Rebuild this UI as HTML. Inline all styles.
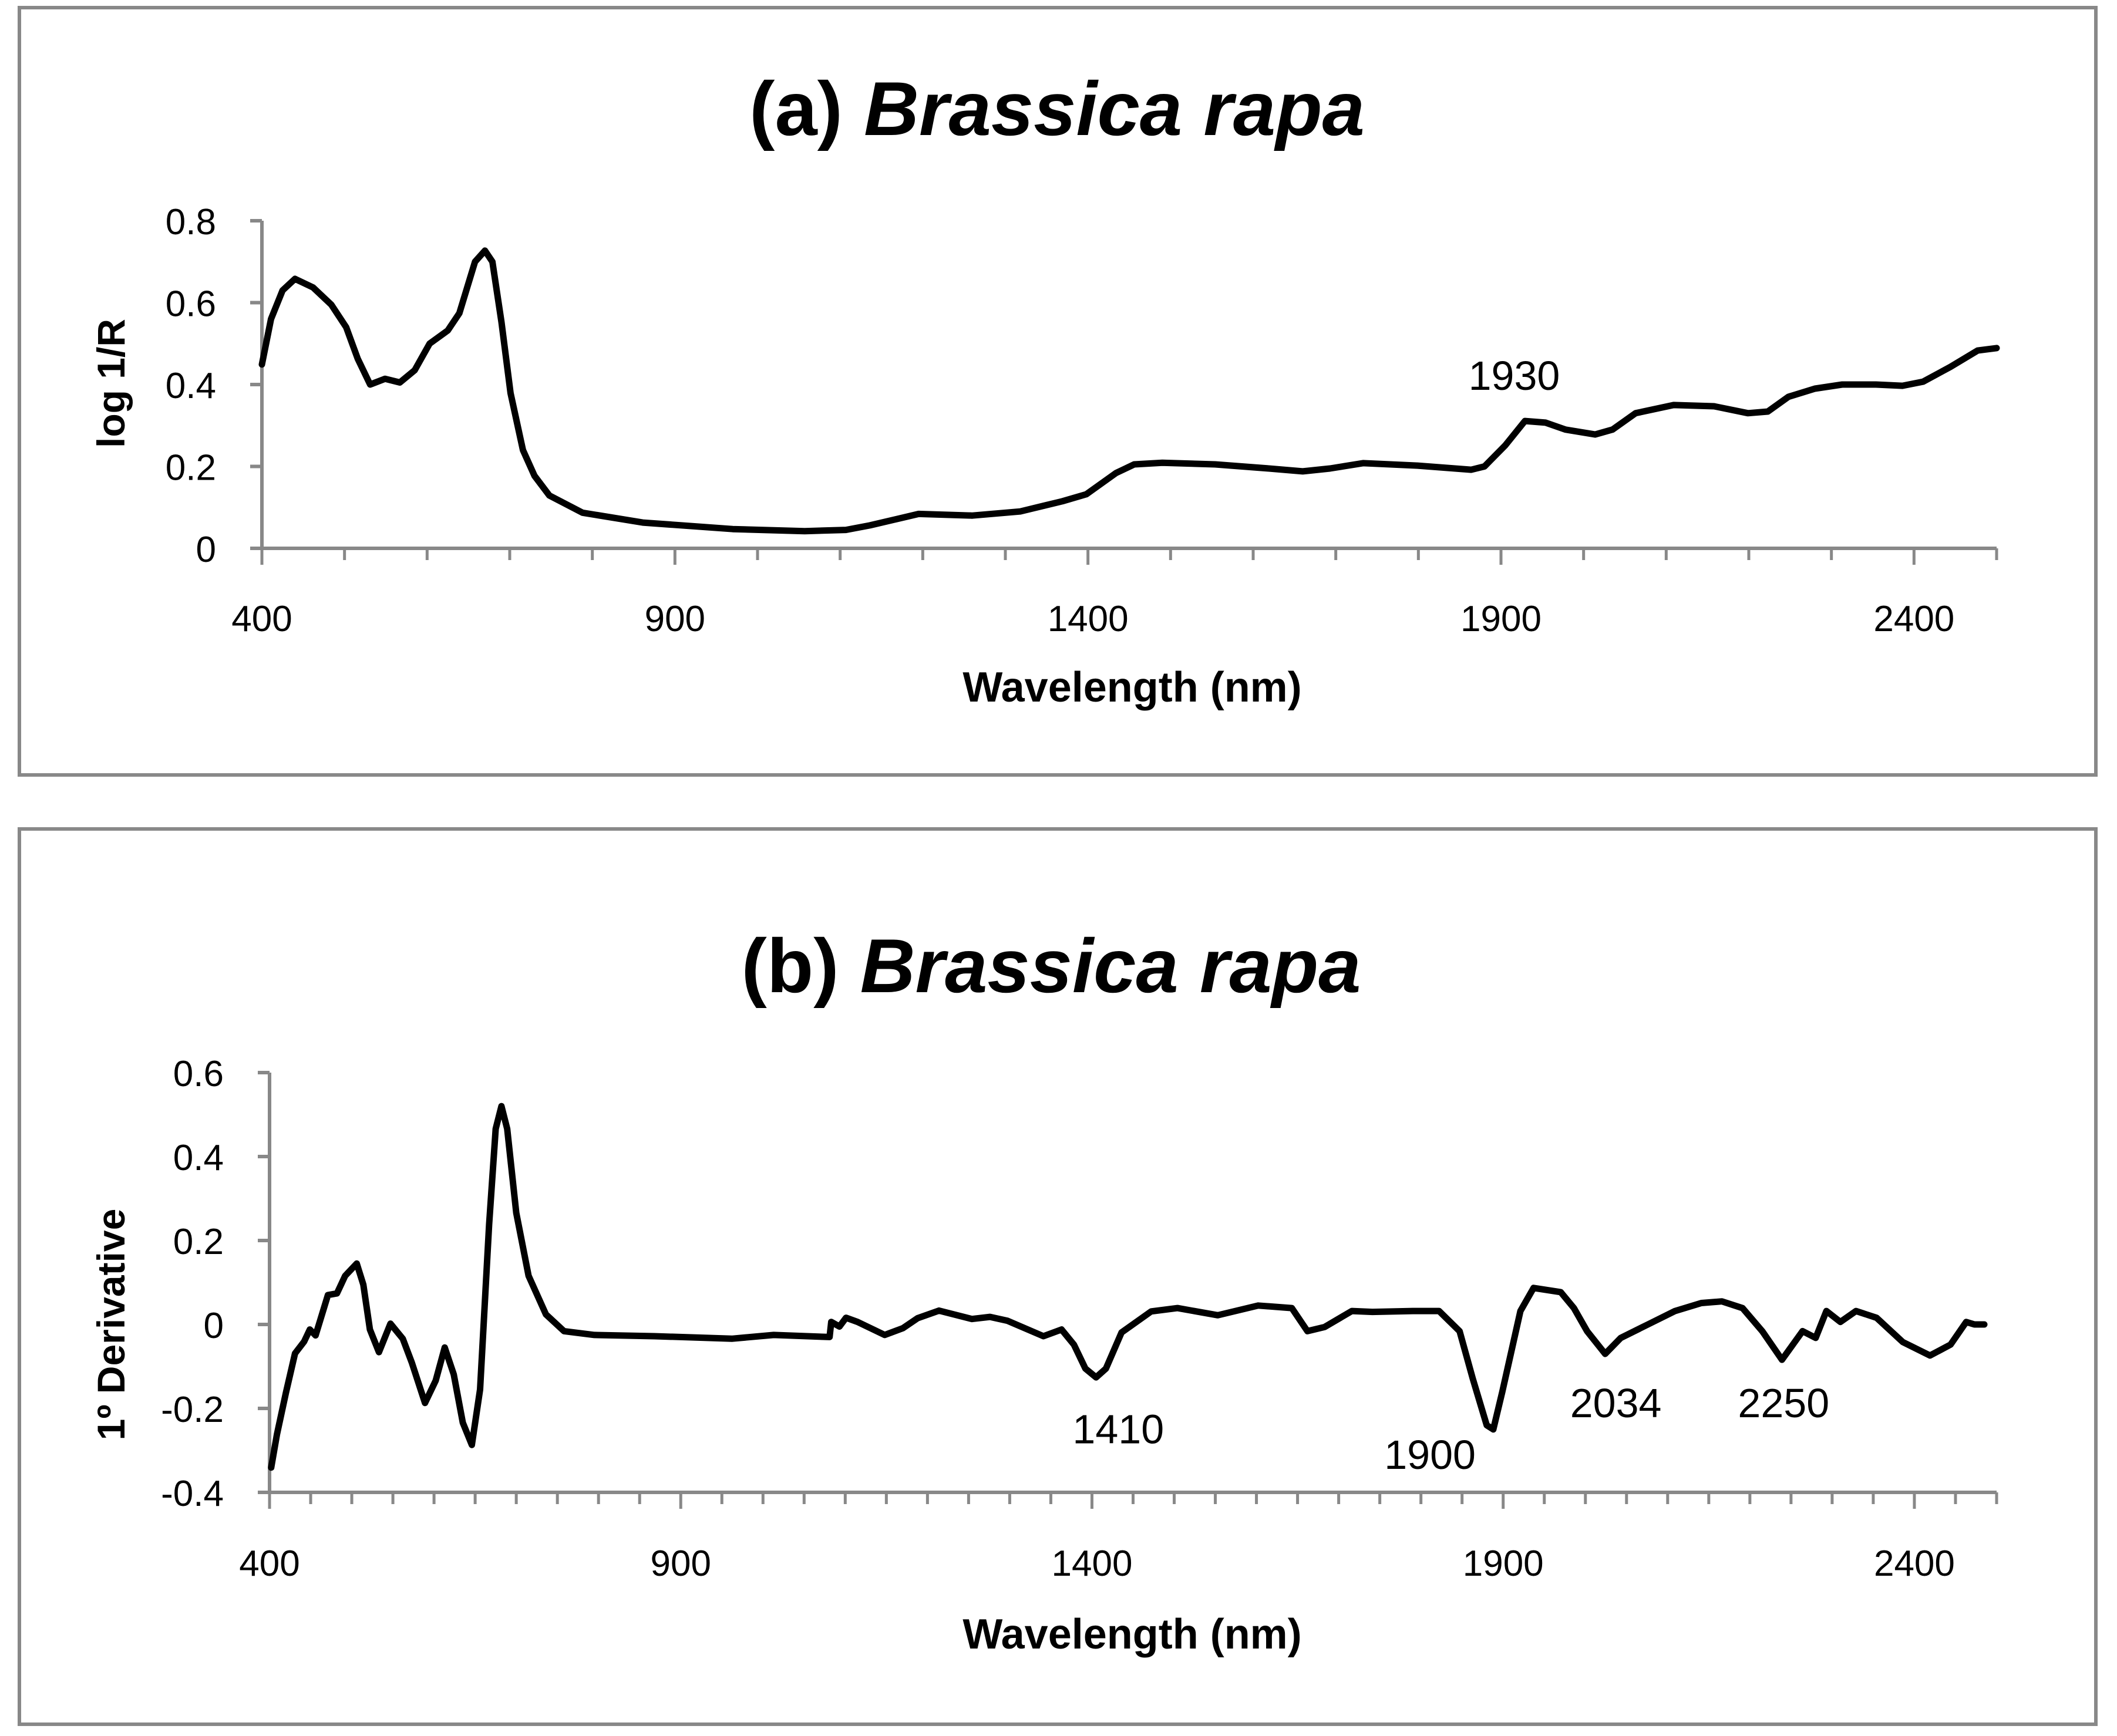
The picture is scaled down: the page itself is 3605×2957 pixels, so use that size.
<!DOCTYPE html>
<html><head><meta charset="utf-8"><style>
html,body{margin:0;padding:0;background:#fff}
svg{display:block}
text{font-family:"Liberation Sans",sans-serif}
</style></head><body>
<svg id="fig" width="3605" height="2957" viewBox="0 0 3605 2957" xmlns="http://www.w3.org/2000/svg">
<rect x="33" y="13" width="3536" height="1307" fill="#fff" stroke="#888" stroke-width="6"/>
<rect x="33" y="1412" width="3536" height="1525" fill="#fff" stroke="#888" stroke-width="6"/>
<text x="1800" y="230" font-size="130" font-weight="bold" text-anchor="middle">(a) <tspan font-style="italic">Brassica rapa</tspan></text>
<text x="1790" y="1690" font-size="130" font-weight="bold" text-anchor="middle">(b) <tspan font-style="italic">Brassica rapa</tspan></text>
<text transform="translate(212,653) rotate(-90)" font-size="66" font-weight="bold" text-anchor="middle">log 1/R</text>
<text transform="translate(212,2256) rotate(-90)" font-size="66" font-weight="bold" text-anchor="middle">1º Derivative</text>
<text x="1928" y="1195" font-size="72" font-weight="bold" text-anchor="middle">Wavelength (nm)</text>
<text x="1928" y="2808" font-size="72" font-weight="bold" text-anchor="middle">Wavelength (nm)</text>
<g id="ga"></g>
<g id="gb"></g>
</svg>
<script>
const aWave=[400,411,425,440,462,484,502,516,531,549,567,585,603,625,639,658,670,679,690,701,716,730,748,788,861,970,1057,1107,1136,1195,1260,1318,1369,1398,1434,1456,1490,1554,1619,1660,1693,1733,1799,1864,1880,1905,1929,1954,1978,2014,2035,2063,2109,2158,2199,2223,2248,2280,2313,2354,2386,2411,2444,2477,2500];
const aVal=[0.449,0.56,0.63,0.658,0.637,0.595,0.54,0.463,0.40,0.414,0.405,0.435,0.50,0.532,0.574,0.70,0.727,0.70,0.553,0.379,0.24,0.177,0.129,0.087,0.063,0.047,0.042,0.045,0.056,0.084,0.080,0.090,0.115,0.132,0.184,0.205,0.209,0.205,0.195,0.188,0.195,0.208,0.202,0.192,0.20,0.251,0.311,0.307,0.29,0.278,0.29,0.33,0.35,0.347,0.33,0.334,0.37,0.39,0.40,0.40,0.397,0.407,0.443,0.483,0.489];
const bWave=[402,409,420,431,442,449,456,471,482,492,506,514,522,533,547,562,573,589,602,613,624,635,646,656,667,675,682,689,700,715,736,758,795,868,962,1013,1081,1083,1093,1101,1115,1148,1170,1188,1214,1254,1276,1297,1341,1363,1378,1392,1405,1417,1436,1472,1504,1553,1602,1643,1662,1683,1716,1741,1790,1822,1847,1863,1880,1888,1899,1921,1937,1970,1986,2002,2024,2043,2076,2109,2141,2166,2191,2215,2239,2264,2280,2293,2310,2329,2354,2386,2419,2444,2463,2473,2485];
const bVal=[-0.341,-0.262,-0.162,-0.069,-0.041,-0.012,-0.026,0.07,0.074,0.116,0.145,0.095,-0.012,-0.066,0.002,-0.034,-0.091,-0.187,-0.134,-0.055,-0.119,-0.234,-0.287,-0.155,0.238,0.466,0.52,0.466,0.266,0.116,0.024,-0.016,-0.025,-0.028,-0.034,-0.025,-0.03,0.006,-0.005,0.016,0.006,-0.025,-0.009,0.015,0.033,0.013,0.018,0.009,-0.028,-0.012,-0.048,-0.105,-0.126,-0.105,-0.019,0.031,0.039,0.022,0.045,0.039,-0.016,-0.006,0.032,0.03,0.032,0.032,-0.016,-0.129,-0.24,-0.25,-0.16,0.032,0.087,0.077,0.039,-0.016,-0.07,-0.032,0,0.032,0.051,0.055,0.039,-0.016,-0.084,-0.016,-0.032,0.032,0.006,0.032,0.016,-0.042,-0.074,-0.048,0.006,0,0];
const aYTicks=[0,0.2,0.4,0.6,0.8];
const bYTicks=[-0.4,-0.2,0,0.2,0.4,0.6];
const xTicks=[400,900,1400,1900,2400];
const aNotes=[["1930",1916,0.387]];
const bNotes=[["1410",1432,-0.283],["1900",1811,-0.344],["2034",2037,-0.221],["2250",2241,-0.221]];
const NS="http://www.w3.org/2000/svg";
function mk(p,t,a){const e=document.createElementNS(NS,t);for(const k in a)e.setAttribute(k,a[k]);p.appendChild(e);return e;}
function chart(g,cfg){
  const sx=w=>cfg.x0+(w-400)*(cfg.x1-cfg.x0)/2100;
  const sy=v=>cfg.yb+(v-cfg.vmin)*(cfg.yt-cfg.yb)/(cfg.vmax-cfg.vmin);
  let l=mk(g,'line',{x1:cfg.x0,y1:cfg.yt,x2:cfg.x0,y2:cfg.yb,stroke:'#888','stroke-width':6});
  
  
  l=mk(g,'line',{x1:cfg.x0-20,y1:cfg.yb,x2:cfg.x1,y2:cfg.yb,stroke:'#888','stroke-width':6});
  
  
  cfg.yt_.forEach(v=>{
    const t=mk(g,'line',{x1:cfg.x0-20,y1:sy(v),x2:cfg.x0,y2:sy(v),stroke:'#888','stroke-width':6});
    
    
    const tx=mk(g,'text',{x:cfg.x0-78,y:sy(v)+23,'font-size':62,'text-anchor':'end'});
    tx.textContent=String(v);
    
    
  });
  for(let w=400;w<=2500;w+=cfg.minor){
    const major=(w-400)%500===0;
    const t=mk(g,'line',{x1:sx(w),y1:cfg.yb,x2:sx(w),y2:cfg.yb+(major?28:20),stroke:'#888','stroke-width':5});
    
    
  }
  xTicks.forEach(w=>{
    const tx=mk(g,'text',{x:sx(w),y:cfg.ly,'font-size':62,'text-anchor':'middle'});
    tx.textContent=String(w);
    
    
  });
  const d=cfg.w.map((w,i)=>(i?'L':'M')+sx(w).toFixed(1)+' '+sy(cfg.v[i]).toFixed(1)).join(' ');
  const p=mk(g,'path',{d:d,fill:'none',stroke:'#000','stroke-width':11,'stroke-linejoin':'round','stroke-linecap':'round'});
  
  
  cfg.notes.forEach(n=>{
    const tx=mk(g,'text',{x:sx(n[1]),y:sy(n[2]),'font-size':70,'text-anchor':'middle'});
    tx.textContent=n[0];
    
    
  });
}
chart(document.getElementById('ga'),{x0:446,x1:3400,yt:376,yb:934,vmin:0,vmax:0.8,yt_:aYTicks,minor:100,ly:1075,w:aWave,v:aVal,notes:aNotes});
chart(document.getElementById('gb'),{x0:459,x1:3400,yt:1827,yb:2542,vmin:-0.4,vmax:0.6,yt_:bYTicks,minor:50,ly:2684,w:bWave,v:bVal,notes:bNotes});
</script>
</body></html>
